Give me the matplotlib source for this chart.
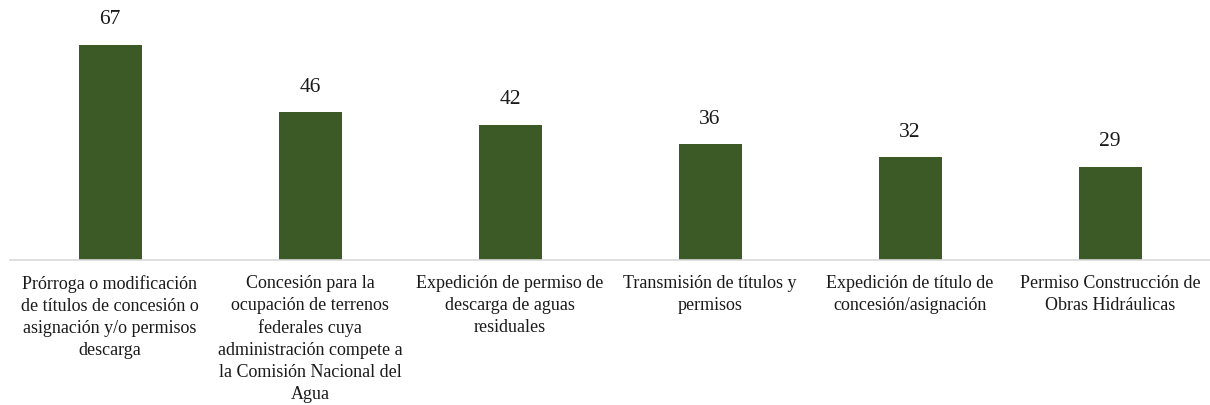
import matplotlib.pyplot as plt

# Data ---------------------------------------------------------
categorias = [
    "Prórroga o modificación\nde títulos de concesión o\nasignación y/o permisos\ndescarga",
    "Concesión para la\nocupación de terrenos\nfederales cuya\nadministración compete a\nla Comisión Nacional del\nAgua",
    "Expedición de permiso de\ndescarga de aguas\nresiduales",
    "Transmisión de títulos y\npermisos",
    "Expedición de título de\nconcesión/asignación",
    "Permiso Construcción de\nObras Hidráulicas",
]
valores = [67, 46, 42, 36, 32, 29]

verde = "#3B5A25"
plt.rcParams['font.family'] = ['Liberation Serif', 'DejaVu Serif']

fig = plt.figure(figsize=(12.1, 4.06), dpi=100)
ax = fig.add_axes([10/1210, 145/406, 1200/1210, 257/406])

x = range(len(valores))
bars = ax.bar(x, valores, width=0.315, color=verde)

for b, v in zip(bars, valores):
    ax.annotate(str(v), (b.get_x() + b.get_width()/2, v),
                xytext=(0, 12), textcoords="offset points",
                ha="center", va="bottom", fontsize=15.5, color="#1a1a1a")

ax.set_xlim(-0.5, len(valores) - 0.5)
ax.set_ylim(0, 80)
ax.set_yticks([])
ax.set_xticks(list(x))
ax.set_xticklabels(categorias, fontsize=13, color="#1a1a1a", linespacing=1.38)
ax.tick_params(axis="x", length=0, pad=10)

for s in ["top", "left", "right"]:
    ax.spines[s].set_visible(False)
ax.spines["bottom"].set_color("#D9D9D9")
ax.spines["bottom"].set_linewidth(1.2)

fig.savefig("out.png", dpi=100)
